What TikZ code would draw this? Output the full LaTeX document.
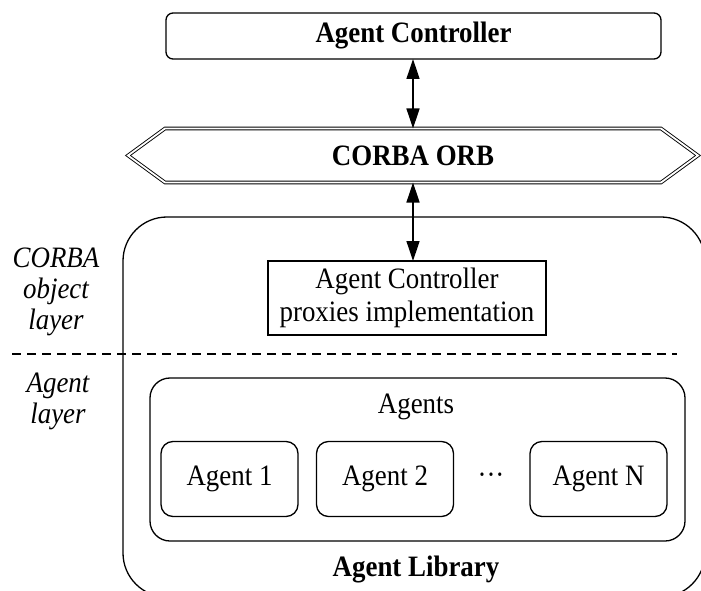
\documentclass[tikz,border=0pt]{standalone}
\usepackage{fontspec}
\usepackage{graphicx}
\setmainfont{Liberation Serif}
\usetikzlibrary{arrows.meta}
\newcommand{\vst}[1]{\scalebox{1}[1.1]{#1}}
\begin{document}
\begin{tikzpicture}[x=1bp,y=-1bp,
  every node/.style={inner sep=0pt, outer sep=0pt, font=\fontsize{27}{31}\selectfont},
  box/.style={draw, line width=1.3bp},
  rbox/.style={box, rounded corners=#1},
  agentbox/.style={rbox=12bp, minimum width=137bp, minimum height=75bp},
  arr/.style={{Triangle[length=20bp,width=13bp]}-{Triangle[length=20bp,width=13bp]}, line width=1.3bp},
  lbl/.style={font=\fontsize{27}{31}\selectfont\itshape, align=center},
  bold/.style={font=\fontsize{27}{31}\selectfont\bfseries}
]
\useasboundingbox (0,0) rectangle (701,591);
\node[rbox=7bp, bold, minimum width=495bp, minimum height=46bp] (ac) at (413.5,36) {\vst{Agent Controller}};
\node[bold, minimum width=570bp, minimum height=54bp] (orb) at (413,155.5) {\vst{CORBA ORB}};
\draw[double, double distance=1.8bp, line width=0.9bp] (orb.west) -- ([xshift=37bp]orb.north west) -- ([xshift=-37bp]orb.north east) -- (orb.east) -- ([xshift=-37bp]orb.south east) -- ([xshift=37bp]orb.south west) -- cycle;
\draw[arr] (ac.south -| orb.north) -- (orb.north);
\node[rbox=44bp, minimum width=582bp, minimum height=380bp] (lib) at (414,407) {};
\node[bold] (libtxt) at (416,569) {\vst{Agent Library}};
\node[box, minimum width=278bp, minimum height=74bp, align=center, font=\fontsize{27}{32.5}\selectfont] (proxy) at (407,298) {\vst{Agent Controller}\\\vst{proxies implementation}};
\draw[arr] (orb.south) -- (orb.south |- proxy.north);
\coordinate (d1) at (12,354);
\coordinate (d2) at (677,354);
\draw[dash pattern=on 9bp off 6bp, line width=1.5bp] (d1) -- (d2);
\node[rbox=20bp, minimum width=535bp, minimum height=163bp] (agents) at (417.5,459.5) {};
\node (agentstxt) at (416,407) {\vst{Agents}};
\node[agentbox] (a1) at (229.5,479) {\vst{Agent 1}};
\node[agentbox] (a2) at (385,479) {\vst{Agent 2}};
\node (dots) at (491,479) {\vst{···}};
\node[agentbox] (an) at (598.5,479) {\vst{Agent N}};
\node[lbl] (l1) at (56,292) {\vst{CORBA}\\\vst{object}\\\vst{layer}};
\node[lbl] (l2) at (58,401) {\vst{Agent}\\\vst{layer}};
\end{tikzpicture}
\end{document}
